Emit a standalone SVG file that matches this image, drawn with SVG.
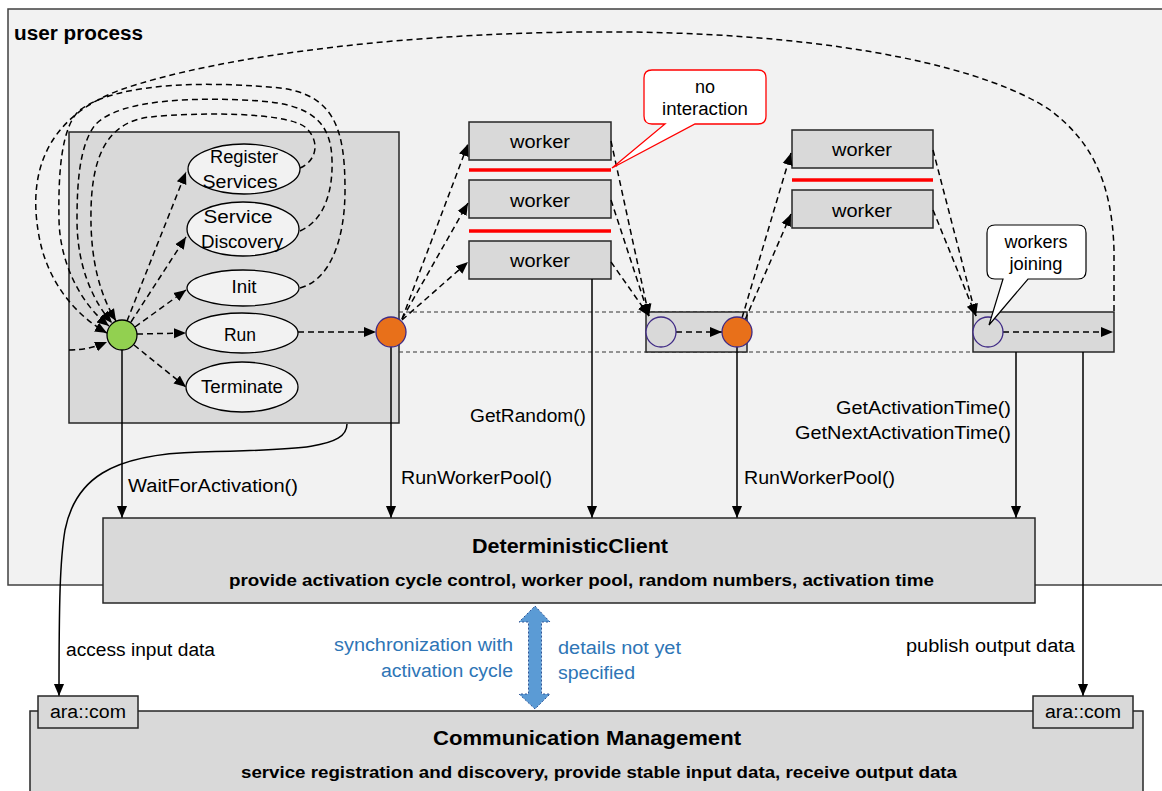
<svg xmlns="http://www.w3.org/2000/svg" width="1162" height="791" viewBox="0 0 1162 791">
<defs>
<style>
text{font-family:"Liberation Sans",Arial,sans-serif;fill:#000;font-size:18px}
.b{font-weight:bold}
.dash{fill:none;stroke:#000;stroke-width:1.5;stroke-dasharray:6 4}
.solid{fill:none;stroke:#000;stroke-width:1.5}
.dot{fill:none;stroke:#333;stroke-width:1;stroke-dasharray:4 3}
.box{fill:#d9d9d9;stroke:#262626;stroke-width:1.5}
.ell{fill:#f2f2f2;stroke:#000;stroke-width:1.3}
.red{stroke:#ff0000;stroke-width:3.5}
.blue{fill:#2e75b6}
.green{fill:#92d050;stroke:#000;stroke-width:1.3}
.orange{fill:#e8701a;stroke:#3f2a85;stroke-width:1.3}
.gray{fill:#d9d9d9;stroke:#3f2a85;stroke-width:1.3}
</style>
<marker id="ah" viewBox="0 0 10 10" refX="10" refY="5" markerWidth="12" markerHeight="12" markerUnits="userSpaceOnUse" orient="auto"><path d="M0,0.8 L10,5 L0,9.2 z" fill="#000"/></marker>
</defs>
<rect x="0" y="0" width="1162" height="791" fill="#fff"/>

<g id="user-process">
<rect x="8" y="9" width="1170" height="576" fill="#f2f2f2" stroke="#404040" stroke-width="1.5"/>
<text x="14" y="40" class="b" style="font-size:20px" textLength="129" lengthAdjust="spacingAndGlyphs">user process</text>
</g>

<g id="lifecycle-box">
<rect x="69" y="132" width="330" height="291" class="box"/>
</g>

<g id="phase-lines">
<line x1="399" y1="312" x2="973" y2="312" class="dot"/>
<line x1="399" y1="352" x2="973" y2="352" class="dot"/>
</g>

<g id="workers-1">
<rect x="469" y="122" width="142" height="38" class="box"/>
<text x="540" y="148" text-anchor="middle" textLength="60" lengthAdjust="spacingAndGlyphs">worker</text>
<line x1="469" y1="170" x2="611" y2="170" class="red"/>
<rect x="469" y="180" width="142" height="38" class="box"/>
<text x="540" y="207" text-anchor="middle" textLength="60" lengthAdjust="spacingAndGlyphs">worker</text>
<line x1="469" y1="231" x2="611" y2="231" class="red"/>
<rect x="469" y="241" width="142" height="38" class="box"/>
<text x="540" y="267" text-anchor="middle" textLength="60" lengthAdjust="spacingAndGlyphs">worker</text>
</g>

<g id="workers-2">
<rect x="792" y="130" width="141" height="38" class="box"/>
<text x="862" y="156" text-anchor="middle" textLength="60" lengthAdjust="spacingAndGlyphs">worker</text>
<line x1="792" y1="180" x2="933" y2="180" class="red"/>
<rect x="792" y="190" width="141" height="38" class="box"/>
<text x="862" y="217" text-anchor="middle" textLength="60" lengthAdjust="spacingAndGlyphs">worker</text>
</g>

<g id="sync-box-1">
<rect x="646" y="312" width="101" height="40" class="box"/>
</g>
<g id="sync-box-2">
<rect x="973" y="312" width="141" height="40" class="box"/>
</g>

<g id="connectors">
<path class="dash" marker-end="url(#ah)" d="M1114,311 L1114,250 C1112,180 1090,140 1050,110 C990,70 850,35 630,32 C420,30 220,55 120,90 C40,120 30,180 38,230 C45,280 75,315 107,333"/>
<path class="dash" marker-end="url(#ah)" d="M300,168 C318,160 320,140 305,127 C285,112 200,112 150,117 C105,122 92,160 91,210 C90,260 100,295 116,321"/>
<path class="dash" marker-end="url(#ah)" d="M300,231 C325,220 333,190 332,160 C331,125 315,105 260,101 C200,97 120,98 95,125 C80,145 77,180 77,220 C77,265 92,300 112,323"/>
<path class="dash" marker-end="url(#ah)" d="M300,288 C330,280 345,240 345,190 C345,130 335,95 280,88 C220,82 120,80 80,110 C62,125 58,170 59,220 C60,265 82,305 109,326"/>
<path class="dash" marker-end="url(#ah)" d="M69,350 C85,350 95,347 107,342"/>
<path class="dash" marker-end="url(#ah)" d="M127,321 L186,172"/>
<path class="dash" marker-end="url(#ah)" d="M131,322 L186,237"/>
<path class="dash" marker-end="url(#ah)" d="M135,327 L186,290"/>
<path class="dash" marker-end="url(#ah)" d="M137,334 L186,333"/>
<path class="dash" marker-end="url(#ah)" d="M134,345 L186,387"/>
<path class="dash" marker-end="url(#ah)" d="M298,332 L376,332"/>
<path class="dash" marker-end="url(#ah)" d="M402,319 L468,144"/>
<path class="dash" marker-end="url(#ah)" d="M402,319 L468,203"/>
<path class="dash" marker-end="url(#ah)" d="M402,320 L468,262"/>
<path class="dash" marker-end="url(#ah)" d="M611,141 L649,316"/>
<path class="dash" marker-end="url(#ah)" d="M611,200 L649,316"/>
<path class="dash" marker-end="url(#ah)" d="M611,262 L649,316"/>
<path class="dash" marker-end="url(#ah)" d="M676,332 L722,332"/>
<path class="dash" marker-end="url(#ah)" d="M742,318 L791,153"/>
<path class="dash" marker-end="url(#ah)" d="M745,320 L791,214"/>
<path class="dash" marker-end="url(#ah)" d="M933,150 L976,316"/>
<path class="dash" marker-end="url(#ah)" d="M933,210 L976,316"/>
<path class="dash" marker-end="url(#ah)" d="M1003,332 L1113,332"/>
<path class="solid" marker-end="url(#ah)" d="M122,350 L122,518"/>
<path class="solid" marker-end="url(#ah)" d="M391,347 L391,518"/>
<path class="solid" marker-end="url(#ah)" d="M592,279 L592,518"/>
<path class="solid" marker-end="url(#ah)" d="M737,347 L737,518"/>
<path class="solid" marker-end="url(#ah)" d="M1016,352 L1016,518"/>
<path class="solid" marker-end="url(#ah)" d="M1083,352 L1083,696"/>
<path class="solid" marker-end="url(#ah)" d="M347,424 C347,448 300,450 200,452 C110,454 75,480 65,530 C60,560 59,600 59,696"/>
</g>

<g id="register-services">
<ellipse cx="244" cy="169" rx="56" ry="25" class="ell"/>
<text x="244" y="163" text-anchor="middle" textLength="68" lengthAdjust="spacingAndGlyphs">Register</text>
<text x="240" y="188" text-anchor="middle" textLength="75" lengthAdjust="spacingAndGlyphs">Services</text>
</g>
<g id="service-discovery">
<ellipse cx="243" cy="229" rx="56" ry="27" class="ell"/>
<text x="238" y="223" text-anchor="middle" textLength="69" lengthAdjust="spacingAndGlyphs">Service</text>
<text x="242" y="248" text-anchor="middle" textLength="82" lengthAdjust="spacingAndGlyphs">Discovery</text>
</g>
<g id="init">
<ellipse cx="243" cy="288" rx="56" ry="18" class="ell"/>
<text x="244" y="293" text-anchor="middle" textLength="25" lengthAdjust="spacingAndGlyphs">Init</text>
</g>
<g id="run">
<ellipse cx="242" cy="333" rx="56" ry="20" class="ell"/>
<text x="240" y="341" text-anchor="middle" textLength="32" lengthAdjust="spacingAndGlyphs">Run</text>
</g>
<g id="terminate">
<ellipse cx="242" cy="387" rx="56" ry="25" class="ell"/>
<text x="242" y="393" text-anchor="middle" textLength="82" lengthAdjust="spacingAndGlyphs">Terminate</text>
</g>

<g id="start-node"><circle cx="122" cy="335" r="15" class="green"/></g>
<g id="fork-1"><circle cx="391" cy="332" r="15" class="orange"/></g>
<g id="join-1"><circle cx="661" cy="332" r="15" class="gray"/></g>
<g id="fork-2"><circle cx="737" cy="332" r="15" class="orange"/></g>
<g id="join-2"><circle cx="988" cy="332" r="15" class="gray"/></g>

<g id="callout-no-interaction">
<path d="M652,70 H758 Q766,70 766,78 V116 Q766,124 758,124 H695 L612,168 L665,124 H652 Q644,124 644,116 V78 Q644,70 652,70 Z" fill="#fff" stroke="#ff0000" stroke-width="1.3"/>
<text x="705" y="93" text-anchor="middle">no</text>
<text x="705" y="115" text-anchor="middle" textLength="86" lengthAdjust="spacingAndGlyphs">interaction</text>
</g>
<g id="callout-workers-joining">
<path d="M995,225 H1078 Q1086,225 1086,233 V271 Q1086,279 1078,279 H1028 L989,325 L1003,279 H995 Q987,279 987,271 V233 Q987,225 995,225 Z" fill="#fff" stroke="#000" stroke-width="1.2"/>
<text x="1036" y="248" text-anchor="middle" textLength="63" lengthAdjust="spacingAndGlyphs">workers</text>
<text x="1036" y="270" text-anchor="middle" textLength="53" lengthAdjust="spacingAndGlyphs">joining</text>
</g>

<g id="labels">
<text x="128" y="492" textLength="170" lengthAdjust="spacingAndGlyphs">WaitForActivation()</text>
<text x="401" y="484" textLength="151" lengthAdjust="spacingAndGlyphs">RunWorkerPool()</text>
<text x="470" y="422" textLength="116" lengthAdjust="spacingAndGlyphs">GetRandom()</text>
<text x="744" y="484" textLength="151" lengthAdjust="spacingAndGlyphs">RunWorkerPool()</text>
<text x="836" y="414" textLength="175" lengthAdjust="spacingAndGlyphs">GetActivationTime()</text>
<text x="795" y="439" textLength="216" lengthAdjust="spacingAndGlyphs">GetNextActivationTime()</text>
<text x="66" y="656" textLength="149" lengthAdjust="spacingAndGlyphs">access input data</text>
<text x="906" y="652" textLength="169" lengthAdjust="spacingAndGlyphs">publish output data</text>
<text x="334" y="651" class="blue" textLength="179" lengthAdjust="spacingAndGlyphs">synchronization with</text>
<text x="381" y="677" class="blue" textLength="132" lengthAdjust="spacingAndGlyphs">activation cycle</text>
<text x="558" y="654" class="blue" textLength="123" lengthAdjust="spacingAndGlyphs">details not yet</text>
<text x="558" y="679" class="blue" textLength="77" lengthAdjust="spacingAndGlyphs">specified</text>
</g>

<g id="deterministic-client">
<rect x="103" y="518" width="932" height="85" class="box"/>
<text x="472" y="553" class="b" style="font-size:21px" textLength="196" lengthAdjust="spacingAndGlyphs">DeterministicClient</text>
<text x="229" y="586" class="b" style="font-size:17px" textLength="705" lengthAdjust="spacingAndGlyphs">provide activation cycle control, worker pool, random numbers, activation time</text>
</g>

<g id="sync-arrow">
<polygon points="535,606 550,622 541.5,622 541.5,694 550,694 535,709 519,694 528.5,694 528.5,622 519,622" fill="#5b9bd5" stroke="#2f5597" stroke-width="1" stroke-dasharray="2 2"/>
</g>

<g id="communication-management">
<rect x="30" y="711" width="1113" height="95" class="box"/>
<text x="433" y="745" class="b" style="font-size:21px" textLength="308" lengthAdjust="spacingAndGlyphs">Communication Management</text>
<text x="241" y="778" class="b" style="font-size:17px" textLength="716" lengthAdjust="spacingAndGlyphs">service registration and discovery, provide stable input data, receive output data</text>
</g>
<g id="ara-com-left">
<rect x="38" y="696" width="100" height="32" class="box"/>
<text x="88" y="718" text-anchor="middle" textLength="76" lengthAdjust="spacingAndGlyphs">ara::com</text>
</g>
<g id="ara-com-right">
<rect x="1033" y="696" width="100" height="32" class="box"/>
<text x="1083" y="718" text-anchor="middle" textLength="76" lengthAdjust="spacingAndGlyphs">ara::com</text>
</g>
</svg>
